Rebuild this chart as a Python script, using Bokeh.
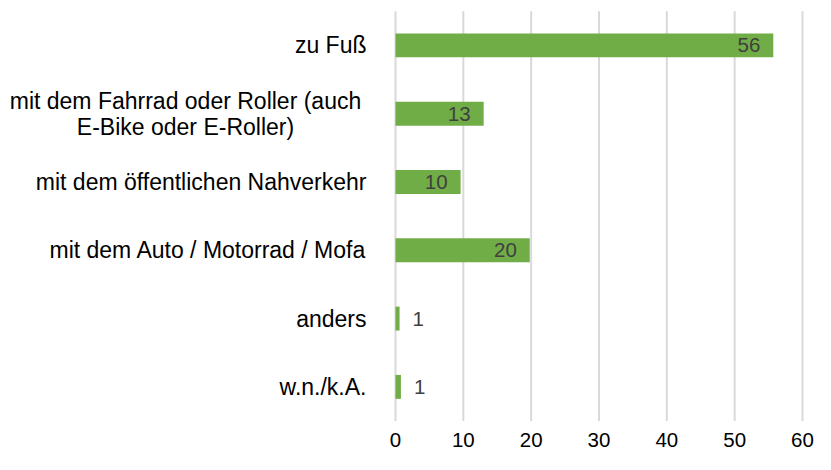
from bokeh.plotting import figure
from bokeh.models import Range1d
from bokeh.core.properties import value
from bokeh.embed import file_html
from bokeh.resources import INLINE

# ---- data ----
categories = [
    "zu Fuß",
    "mit dem Fahrrad oder Roller (auch\nE-Bike oder E-Roller)",
    "mit dem öffentlichen Nahverkehr",
    "mit dem Auto / Motorrad / Mofa",
    "anders",
    "w.n./k.A.",
]
values = [55.7, 13.0, 9.6, 19.8, 0.6, 0.8]
value_labels = ["56", "13", "10", "20", "1", "1"]
x_ticks = [0, 10, 20, 30, 40, 50, 60]
tick_labels = ["0", "10", "20", "30", "40", "50", "60"]

FONT = value("Liberation Sans")
BAR = "#70AD47"
GRID = "#D9D9D9"

rows = list(range(len(categories)))

p = figure(width=815, height=454, output_backend="svg", toolbar_location=None,
           x_range=Range1d(-58.23, 61.92), y_range=Range1d(5.99, -0.657),
           x_axis_type=None, y_axis_type=None, min_border=0)
p.outline_line_color = None
p.background_fill_color = "white"
p.border_fill_color = "white"

# gridlines
p.segment(x0=x_ticks, y0=[-0.5] * len(x_ticks), x1=x_ticks, y1=[5.5] * len(x_ticks),
          line_color=GRID, line_width=2)

# bars
p.hbar(y=rows, left=0, right=values, height=0.35, fill_color=BAR, line_color=None)

# value labels
inside = [i for i, v in enumerate(values) if v >= 5]
outside = [i for i, v in enumerate(values) if v < 5]
p.text(x=[values[i] for i in inside], y=[rows[i] for i in inside],
       text=[value_labels[i] for i in inside], text_align="right", text_baseline="middle",
       x_offset=-13, text_font=FONT, text_font_size="20.5px", text_color="#404040")
p.text(x=[values[i] for i in outside], y=[rows[i] for i in outside],
       text=[value_labels[i] for i in outside], text_align="left", text_baseline="middle",
       x_offset=13, text_font=FONT, text_font_size="20.5px", text_color="#404040")

# category labels
single = [i for i, c in enumerate(categories) if "\n" not in c]
multi = [i for i, c in enumerate(categories) if "\n" in c]
p.text(x=[0] * len(single), y=[rows[i] for i in single], text=[categories[i] for i in single],
       text_align="right", text_baseline="middle", x_offset=-29,
       text_font=FONT, text_font_size="23px", text_color="#000000")
p.text(x=[0] * len(multi), y=[rows[i] for i in multi], text=[categories[i] for i in multi],
       text_align="center", text_baseline="middle", x_offset=-210, text_line_height=1.0,
       text_font=FONT, text_font_size="23px", text_color="#000000")

# x tick labels
p.text(x=x_ticks, y=[5.88] * len(x_ticks), text=tick_labels, text_align="center",
       text_baseline="bottom", text_font=FONT, text_font_size="20.5px", text_color="#000000")

open("out.html", "w").write(file_html(p, INLINE))
